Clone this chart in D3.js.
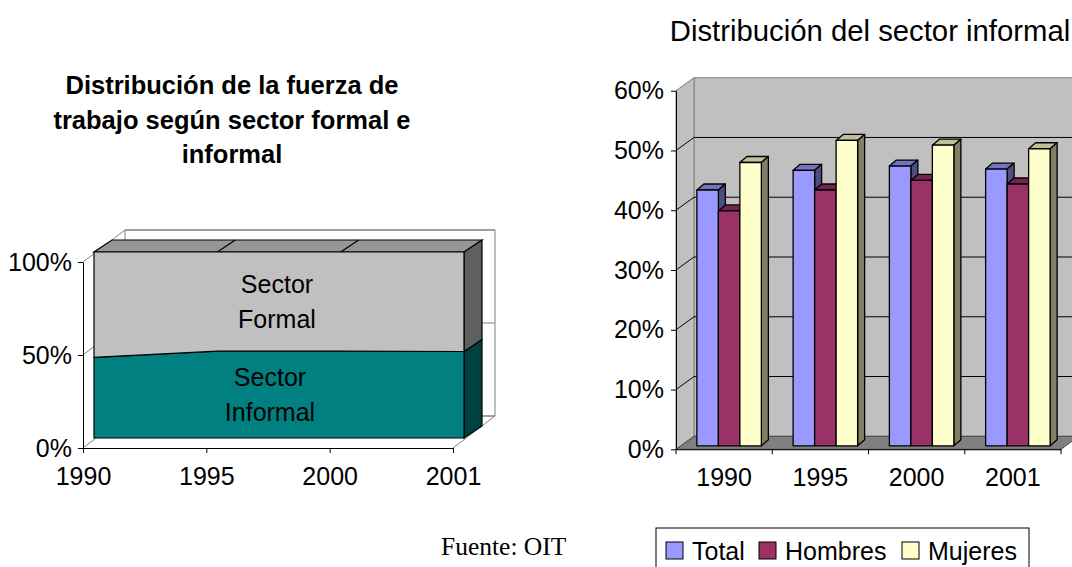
<!DOCTYPE html>
<html>
<head>
<meta charset="utf-8">
<script src="https://cdn.jsdelivr.net/npm/d3@7/dist/d3.min.js"></script>
<style>
  body { margin: 0; background: #fff; }
</style>
</head>
<body>
<div id="chart"></div>
<script>
var vWidth = 1072;
var vHeight = 567;

// data
var years = ["1990", "1995", "2000", "2001"];
var informal = [43.4, 46.7, 46.7, 46.5];
var formal = [56.6, 53.3, 53.3, 53.5];
var leftTicks = [0, 50, 100];

var series = ["Total", "Hombres", "Mujeres"];
var total = [42.8, 46.1, 46.8, 46.3];
var hombres = [39.3, 42.8, 44.4, 43.8];
var mujeres = [47.4, 51.1, 50.3, 49.7];
var rightTicks = [0, 10, 20, 30, 40, 50, 60];

var colors = {
  Total:   { front: "#9999FF", top: "#7373BF", side: "#4D4D80" },
  Hombres: { front: "#993366", top: "#73264D", side: "#4D1A33" },
  Mujeres: { front: "#FFFFCC", top: "#BFBF99", side: "#808066" }
};

var sans = "Arial, 'Liberation Sans', sans-serif";

var svg = d3.select("#chart")
  .append("svg")
  .attr("width", vWidth)
  .attr("height", vHeight)
  .attr("font-family", sans);

var line = d3.line();

// ---------------- left chart: 3D stacked area ----------------
var xL = d3.scalePoint().domain(years).range([83, 453]);
var yL = d3.scaleLinear().domain([0, 100]).range([448, 262]);
var wallL = [42, -32];     // depth of the walls
var aFront = [11, -10];    // front of the area
var aBack = [29, -22];     // back of the area

var gL = svg.append("g");

var x0 = xL.range()[0], x1 = xL.range()[1];

// walls and gridlines
gL.append("path")
  .attr("d", line([[x0 + wallL[0], yL(0) + wallL[1]], [x0 + wallL[0], yL(100) + wallL[1]],
                   [x1 + wallL[0], yL(100) + wallL[1]], [x1 + wallL[0], yL(0) + wallL[1]],
                   [x0 + wallL[0], yL(0) + wallL[1]]]))
  .attr("fill", "none").attr("stroke", "#808080");
gL.append("path")
  .attr("d", line([[x1, yL(0)], [x1 + wallL[0], yL(0) + wallL[1]]]))
  .attr("stroke", "#808080");
leftTicks.forEach(function (t) {
  gL.append("path")
    .attr("d", line([[x0, yL(t)], [x0 + wallL[0], yL(t) + wallL[1]], [x1 + wallL[0], yL(t) + wallL[1]]]))
    .attr("fill", "none").attr("stroke", "#808080");
});

var rows = years.map(function (y, i) { return { year: y, informal: informal[i], formal: formal[i] }; });
var stacked = d3.stack().keys(["informal", "formal"])(rows);
var fills = { informal: "#008080", formal: "#C0C0C0" };
var sideFills = { informal: "#004040", formal: "#5F5F5F" };

// top face
var topPts = rows.map(function (d) { return [xL(d.year) + aFront[0], yL(100) + aFront[1]]; });
var backPts = rows.map(function (d) { return [xL(d.year) + aBack[0], yL(100) + aBack[1]]; }).reverse();
gL.append("path")
  .attr("d", line(topPts.concat(backPts)) + "Z")
  .attr("fill", "#969696").attr("stroke", "#000").attr("stroke-width", 1.2);
rows.slice(1, -1).forEach(function (d) {
  gL.append("path")
    .attr("d", line([[xL(d.year) + aFront[0], yL(100) + aFront[1]], [xL(d.year) + aBack[0], yL(100) + aBack[1]]]))
    .attr("stroke", "#000").attr("stroke-width", 1.2);
});

// right end face
stacked.forEach(function (layer) {
  var last = layer[layer.length - 1];
  var xe = xL(last.data.year);
  gL.append("path")
    .attr("d", line([[xe + aFront[0], yL(last[0]) + aFront[1]], [xe + aFront[0], yL(last[1]) + aFront[1]],
                     [xe + aBack[0], yL(last[1]) + aBack[1]], [xe + aBack[0], yL(last[0]) + aBack[1]]]) + "Z")
    .attr("fill", sideFills[layer.key]).attr("stroke", "#000").attr("stroke-width", 1.2);
});

// front faces
var areaGen = d3.area()
  .x(function (d) { return xL(d.data.year) + aFront[0]; })
  .y0(function (d) { return yL(d[0]) + aFront[1]; })
  .y1(function (d) { return yL(d[1]) + aFront[1]; });
gL.selectAll(".layer")
  .data(stacked)
  .enter().append("path")
  .attr("class", "layer")
  .attr("d", areaGen)
  .attr("fill", function (d) { return fills[d.key]; })
  .attr("stroke", "#000").attr("stroke-width", 1.2);

// labels inside the area
var midX = (x0 + x1) / 2 + aFront[0];
var labels = [
  { key: "formal", lines: ["Sector", "Formal"], dx: -2 },
  { key: "informal", lines: ["Sector", "Informal"], dx: -9 }
];
labels.forEach(function (l) {
  var layer = stacked.find(function (s) { return s.key === l.key; });
  var mid = layer[2];
  var cy = (yL(mid[0]) + yL(mid[1])) / 2 + aFront[1];
  l.lines.forEach(function (t, i) {
    gL.append("text")
      .attr("x", midX + l.dx)
      .attr("y", cy + (i - 0.5) * 35)
      .attr("dy", "0.35em")
      .attr("text-anchor", "middle")
      .attr("font-size", 25)
      .text(t);
  });
});

// axes
var axL = gL.append("g")
  .attr("transform", "translate(" + x0 + ",0)")
  .call(d3.axisLeft(yL).tickValues(leftTicks).tickFormat(function (d) { return d + "%"; })
        .tickSize(5).tickSizeOuter(0).tickPadding(6));
var axB = gL.append("g")
  .attr("transform", "translate(0," + yL(0) + ")")
  .call(d3.axisBottom(xL).tickSize(5).tickSizeOuter(0).tickPadding(14));
[axL, axB].forEach(function (a) {
  a.attr("font-size", 25).attr("font-family", sans);
  a.selectAll("text").attr("fill", "#000");
  a.select(".domain").attr("stroke", "#000");
});

// left title
var titleL = ["Distribución de la fuerza de", "trabajo según sector formal e", "informal"];
titleL.forEach(function (t, i) {
  svg.append("text")
    .attr("x", 232)
    .attr("y", 94 + i * 34.5)
    .attr("text-anchor", "middle")
    .attr("font-size", 25.5)
    .attr("font-weight", "bold")
    .text(t);
});

// ---------------- right chart: 3D clustered columns ----------------
var xR = d3.scaleBand().domain(years).range([676, 1061]);
var yR = d3.scaleLinear().domain([0, 60]).range([449.3, 90.7]);
var xS = d3.scaleBand().domain(series).range([0, 64.5]);
var wallR = [18, -13];
var barOff = [5, -3.5];
var barDepth = [7, -6];

var gR = svg.append("g");
var rx0 = xR.range()[0], rx1 = xR.range()[1];

// back wall, side wall, floor
gR.append("path")
  .attr("d", line([[rx0 + wallR[0], yR(60) + wallR[1]], [rx1 + wallR[0] + 40, yR(60) + wallR[1]],
                   [rx1 + wallR[0] + 40, yR(0) + wallR[1]], [rx0 + wallR[0], yR(0) + wallR[1]]]) + "Z")
  .attr("fill", "#C0C0C0").attr("stroke", "#808080");
gR.append("path")
  .attr("d", line([[rx0, yR(60)], [rx0 + wallR[0], yR(60) + wallR[1]],
                   [rx0 + wallR[0], yR(0) + wallR[1]], [rx0, yR(0)]]) + "Z")
  .attr("fill", "#C0C0C0").attr("stroke", "#808080");
gR.append("path")
  .attr("d", line([[rx0, yR(0)], [rx1, yR(0)], [rx1 + wallR[0], yR(0) + wallR[1]],
                   [rx0 + wallR[0], yR(0) + wallR[1]]]) + "Z")
  .attr("fill", "#808080").attr("stroke", "#333").attr("stroke-width", 0.8);

// gridlines
rightTicks.slice(1, -1).forEach(function (t) {
  gR.append("path")
    .attr("d", line([[rx0, yR(t)], [rx0 + wallR[0], yR(t) + wallR[1]], [rx1 + wallR[0] + 40, yR(t) + wallR[1]]]))
    .attr("fill", "none").attr("stroke", "#000");
});

// bars
var barData = [];
years.forEach(function (y, i) {
  [total, hombres, mujeres].forEach(function (vals, j) {
    barData.push({ year: y, key: series[j], value: vals[i] });
  });
});

var bars = gR.selectAll(".bar")
  .data(barData)
  .enter().append("g")
  .attr("class", "bar");

function barBox(d) {
  var xl = xR(d.year) + xR.bandwidth() / 2 - 32.25 + barOff[0] + xS(d.key);
  return { xl: xl, xr: xl + xS.bandwidth(), yt: yR(d.value) + barOff[1], yb: yR(0) + barOff[1] };
}

bars.append("path")  // top face
  .attr("d", function (d) {
    var b = barBox(d);
    return line([[b.xl, b.yt], [b.xr, b.yt], [b.xr + barDepth[0], b.yt + barDepth[1]], [b.xl + barDepth[0], b.yt + barDepth[1]]]) + "Z";
  })
  .attr("fill", function (d) { return colors[d.key].top; });
bars.append("path")  // side face
  .attr("d", function (d) {
    var b = barBox(d);
    return line([[b.xr, b.yt], [b.xr + barDepth[0], b.yt + barDepth[1]], [b.xr + barDepth[0], b.yb + barDepth[1]], [b.xr, b.yb]]) + "Z";
  })
  .attr("fill", function (d) { return colors[d.key].side; });
bars.append("rect")  // front face
  .attr("x", function (d) { return barBox(d).xl; })
  .attr("y", function (d) { return barBox(d).yt; })
  .attr("width", xS.bandwidth())
  .attr("height", function (d) { var b = barBox(d); return b.yb - b.yt; })
  .attr("fill", function (d) { return colors[d.key].front; });
bars.selectAll("path, rect")
  .attr("stroke", "#000").attr("stroke-width", 1.3).attr("stroke-linejoin", "round");

// axes
var axR = gR.append("g")
  .attr("transform", "translate(" + rx0 + ",0)")
  .call(d3.axisLeft(yR).tickValues(rightTicks).tickFormat(function (d) { return d + "%"; })
        .tickSize(5).tickSizeOuter(0).tickPadding(7));
var axRB = gR.append("g")
  .attr("transform", "translate(0," + yR(0) + ")")
  .call(d3.axisBottom(xR).tickSize(0).tickPadding(19));
gR.selectAll(".xedge")
  .data(years.map(function (y) { return xR(y); }).concat([rx1]))
  .enter().append("line")
  .attr("class", "xedge")
  .attr("x1", function (d) { return d; }).attr("x2", function (d) { return d; })
  .attr("y1", yR(0)).attr("y2", yR(0) + 5)
  .attr("stroke", "#000");
[axR, axRB].forEach(function (a) {
  a.attr("font-size", 25).attr("font-family", sans);
  a.selectAll("text").attr("fill", "#000");
  a.select(".domain").attr("stroke", "#000");
});

// right title
svg.append("text")
  .attr("x", 870)
  .attr("y", 41)
  .attr("text-anchor", "middle")
  .attr("font-size", 29.3)
  .text("Distribución del sector informal");

// legend
var legend = svg.append("g");
legend.append("rect")
  .attr("x", 656).attr("y", 528)
  .attr("width", 373).attr("height", 60)
  .attr("fill", "#fff").attr("stroke", "#000");
var legendX = [666, 759, 902];
series.forEach(function (s, i) {
  legend.append("rect")
    .attr("x", legendX[i]).attr("y", 542)
    .attr("width", 17).attr("height", 17)
    .attr("fill", colors[s].front).attr("stroke", "#000");
  legend.append("text")
    .attr("x", legendX[i] + 26).attr("y", 560)
    .attr("font-size", 25)
    .text(s);
});

// source note
svg.append("text")
  .attr("x", 441).attr("y", 555)
  .attr("font-size", 25.5)
  .attr("font-family", "'Times New Roman', 'Liberation Serif', serif")
  .text("Fuente: OIT");
</script>
</body>
</html>
